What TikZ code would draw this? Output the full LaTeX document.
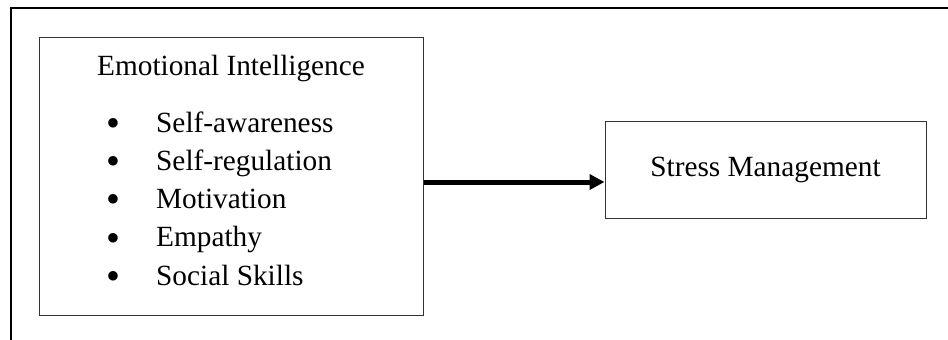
\documentclass[tikz,border=0pt]{standalone}
\usepackage{fontspec}
\setmainfont{Liberation Serif}
\newfontfamily\symfont{DejaVu Sans}
\usetikzlibrary{math,arrows.meta}
\tikzset{
	frame/.style={draw, black!80, line width=1pt},
	label/.style={font=\fontsize{29.3}{34}\selectfont, inner sep=0pt},
	dot/.style={font=\symfont\fontsize{12.5}{13}\selectfont, inner sep=0pt},
	flow/.style={line width=5pt, -{Triangle[length=15pt, width=15pt]}},
	every path/.style={color=black}
}

\begin{document}
\begin{tikzpicture}[x=1pt, y=-1pt]
	\tikzmath{\dy = 38.3; \first = 132;}
	\useasboundingbox (0, 0) rectangle (948, 340);
	\draw[line width=1.2pt] (948, 8) -- (11, 8) -- (11, 340);

	\node[frame, anchor=north west, minimum width=384pt, minimum height=278pt] (ei) at (39, 37)  {};
	\node[frame, minimum width=321pt, minimum height=97pt]                     (sm) at (765.5, 169.5) {};

	\node[label, anchor=base] (head) at (231, 75) {Emotional Intelligence};
	\node[label]              (sm text) at (sm.center) {Stress Management};

	\foreach \item [count=\i from 0] in {Self-awareness, Self-regulation, Motivation, Empathy, Social Skills} {
		\node[dot]                     (dot\i)  at (113, {\first + \i * \dy - 9}) {●};
		\node[label, anchor=base west] (item\i) at (156, {\first + \i * \dy}) {\item};
	}

	\draw[flow] (ei.east |- 0, 182) -- (sm.west |- 0, 182);
\end{tikzpicture}
\end{document}
